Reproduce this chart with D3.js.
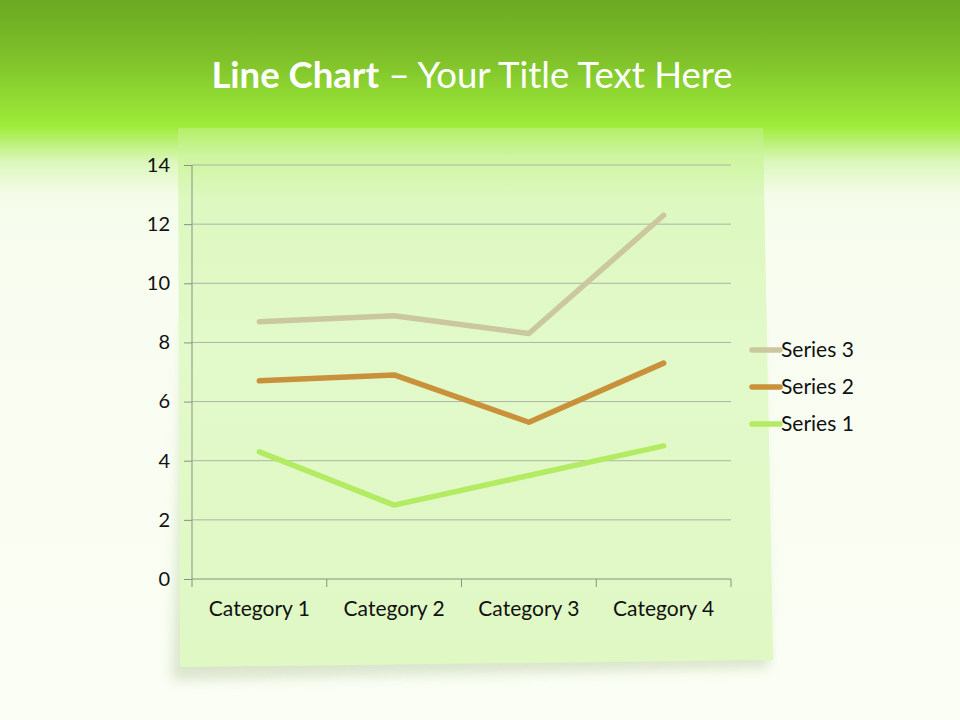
<!DOCTYPE html>
<html>
<head>
<meta charset="utf-8">
<script src="https://cdn.jsdelivr.net/npm/d3@7"></script>
<style>
  html, body { margin: 0; padding: 0; background: #f9fdf2; }
  svg { display: block; }
  .tick text { font-family: Lato, 'Open Sans', sans-serif; fill: #111; }
</style>
</head>
<body>
<div id="chart"></div>
<script>
const categories = ['Category 1', 'Category 2', 'Category 3', 'Category 4'];
const seriesNames = ['Series 1', 'Series 2', 'Series 3'];
// raw values, the chart stacks them
const series1 = [4.3, 2.5, 3.5, 4.5];
const series2 = [2.4, 4.4, 1.8, 2.8];
const series3 = [2, 2, 3, 5];
const yTicks = [0, 2, 4, 6, 8, 10, 12, 14];
const colors = ['#b3ec62', '#c9913a', '#cbc79e'];

const width = 960;
const height = 720;
const plot = { left: 192, right: 731, top: 165, bottom: 579 };
const font = "Lato, 'Open Sans', sans-serif";

const svg = d3
  .select('#chart')
  .append('svg')
  .attr('width', width)
  .attr('height', height);

const defs = svg.append('defs');

const bg = defs
  .append('linearGradient')
  .attr('id', 'bg')
  .attr('x1', 0).attr('y1', 0).attr('x2', 0).attr('y2', 1);
[
  [0, '#6aa922'],
  [0.08, '#7fc12a'],
  [0.175, '#9eec3a'],
  [0.19, '#b2ef62'],
  [0.225, '#dcf7bc'],
  [0.27, '#f4fce9'],
  [0.35, '#f8fdf0'],
  [1, '#fafef4'],
].forEach(([o, c]) => bg.append('stop').attr('offset', o).attr('stop-color', c));

const panelGrad = defs
  .append('linearGradient')
  .attr('id', 'panel')
  .attr('gradientUnits', 'userSpaceOnUse')
  .attr('x1', 0).attr('y1', 128).attr('x2', 0).attr('y2', 668);
[
  [0, '#b4ef68'],
  [0.05, '#cdf59e'],
  [0.13, '#ddf8c0'],
  [0.4, '#e2f9c9'],
  [1, '#dff8c4'],
].forEach(([o, c]) => panelGrad.append('stop').attr('offset', o).attr('stop-color', c));

const shadow = defs.append('filter').attr('id', 'shadow')
  .attr('x', '-10%').attr('y', '-10%').attr('width', '120%').attr('height', '120%');
shadow.append('feGaussianBlur').attr('stdDeviation', 6);

svg.append('rect')
  .attr('width', width)
  .attr('height', height)
  .attr('fill', 'url(#bg)');

// sticky note panel with a soft shadow
const panelPts = [[178, 128], [763, 128], [773, 660], [180, 667]];
svg.append('polygon')
  .attr('points', [[184, 320], [760, 320], [769, 668], [172, 680]].join(' '))
  .attr('fill', '#c3d2ae')
  .attr('opacity', 0.55)
  .attr('filter', 'url(#shadow)');
svg.append('polygon')
  .attr('points', panelPts.join(' '))
  .attr('fill', 'url(#panel)');

// title
const title = svg.append('text')
  .attr('x', 472)
  .attr('y', 88)
  .attr('text-anchor', 'middle')
  .attr('fill', '#ffffff')
  .style('font-family', font)
  .style('font-size', '36.5px');
title.append('tspan').attr('font-weight', 'bold').text('Line Chart');
title.append('tspan').text(' \u2013 Your Title Text Here');

const x = d3.scaleBand()
  .domain(categories)
  .range([plot.left, plot.right]);

const y = d3.scaleLinear()
  .domain([0, 14])
  .range([plot.bottom, plot.top]);

// gridlines
svg.append('g')
  .selectAll('line')
  .data(yTicks.filter((d) => d > 0))
  .join('line')
  .attr('x1', plot.left)
  .attr('x2', plot.right)
  .attr('y1', (d) => y(d))
  .attr('y2', (d) => y(d))
  .attr('stroke', '#adb4a6')
  .attr('stroke-width', 1);

const yAxis = d3.axisLeft(y).tickValues(yTicks).tickSize(8).tickPadding(14);
svg.append('g')
  .attr('transform', `translate(${plot.left},0)`)
  .call(yAxis)
  .call((g) => g.selectAll('line, path').attr('stroke', '#8a9184'))
  .call((g) => g.select('.domain').attr('d', `M0,${plot.top}V${plot.bottom}`))
  .call((g) => g.selectAll('text').style('font-size', '20px'));

const xAxis = d3.axisBottom(x).tickSize(0).tickPadding(22);
svg.append('g')
  .attr('transform', `translate(0,${plot.bottom})`)
  .call(xAxis)
  .call((g) => g.select('.domain').attr('d', `M${plot.left},0H${plot.right}`).attr('stroke', '#8a9184'))
  .call((g) => g.selectAll('text').style('font-size', '21px'));

// tick marks between categories
svg.append('g')
  .selectAll('line')
  .data(categories.map((c) => x(c)).concat([plot.right]))
  .join('line')
  .attr('x1', (d) => d)
  .attr('x2', (d) => d)
  .attr('y1', plot.bottom)
  .attr('y2', plot.bottom + 8)
  .attr('stroke', '#8a9184');

// stacked lines
const table = categories.map((c, i) => ({
  category: c,
  'Series 1': series1[i],
  'Series 2': series2[i],
  'Series 3': series3[i],
}));
const stacked = d3.stack().keys(seriesNames)(table);

const line = d3.line()
  .x((d) => x(d.data.category) + x.bandwidth() / 2)
  .y((d) => y(d[1]));

svg.append('g')
  .selectAll('path')
  .data(stacked)
  .join('path')
  .attr('d', line)
  .attr('fill', 'none')
  .attr('stroke', (d, i) => colors[i])
  .attr('stroke-width', 5.5)
  .attr('stroke-linecap', 'round')
  .attr('stroke-linejoin', 'round');

// legend, top entry is Series 3
const legend = svg.append('g')
  .selectAll('g')
  .data(seriesNames.slice().reverse())
  .join('g')
  .attr('transform', (d, i) => `translate(752,${350 + i * 37})`);

legend.append('line')
  .attr('x1', 0)
  .attr('x2', 28)
  .attr('stroke', (d) => colors[seriesNames.indexOf(d)])
  .attr('stroke-width', 5.5)
  .attr('stroke-linecap', 'round');

legend.append('text')
  .attr('x', 29)
  .attr('dy', '0.35em')
  .attr('fill', '#111')
  .style('font-family', font)
  .style('font-size', '21px')
  .text((d) => d);
</script>
</body>
</html>
